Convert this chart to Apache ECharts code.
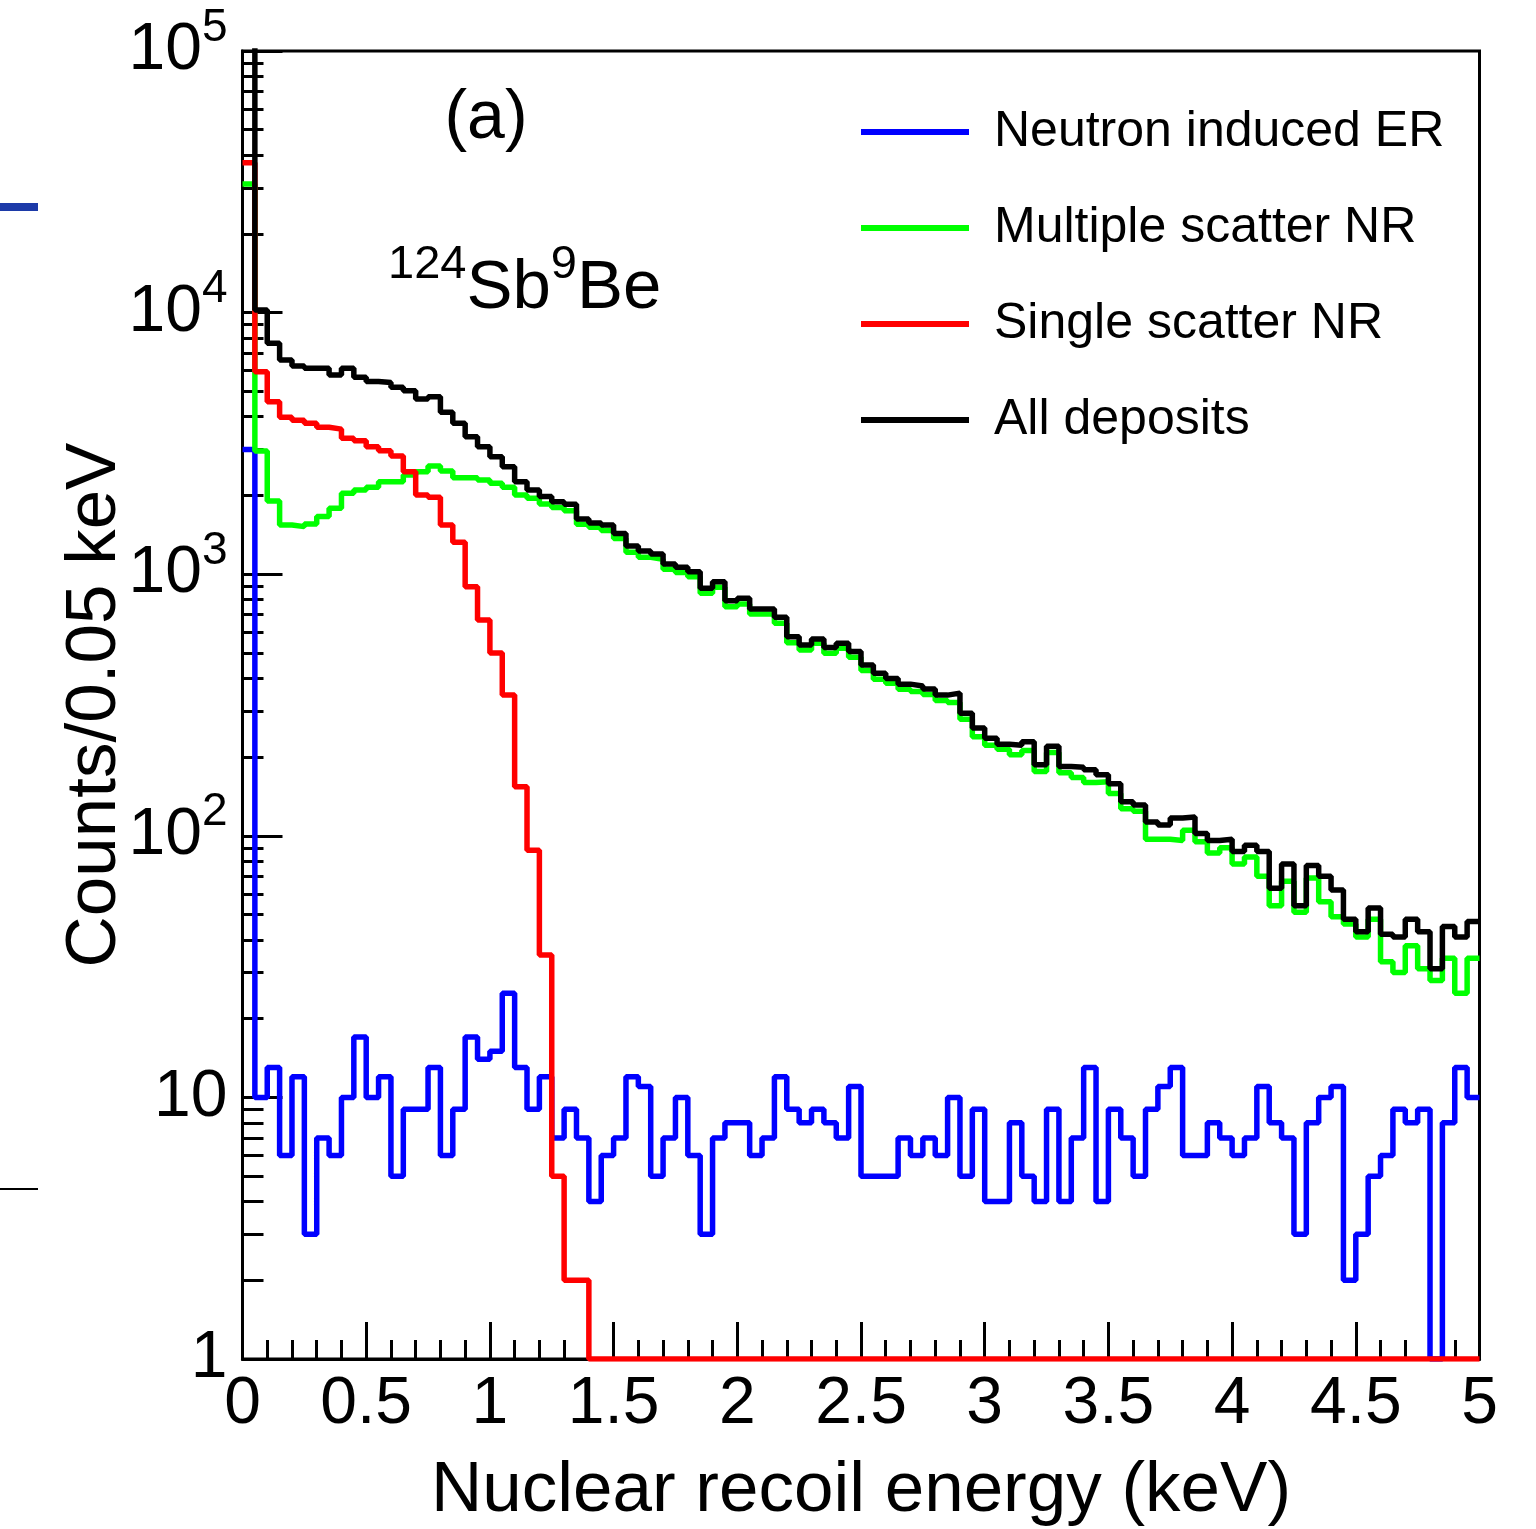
<!DOCTYPE html>
<html><head><meta charset="utf-8">
<script src="https://cdn.jsdelivr.net/npm/echarts@6/dist/echarts.min.js"></script>
<style>html,body{margin:0;padding:0;background:#fff}#chart{width:1536px;height:1529px}</style>
</head><body><div id="chart"></div>
<script>
// Histogram: 100 bins of 0.05 keV from 0 to 5 keV
const binWidth = 0.05;
const xMin = 0, xMax = 5;

const seriesNames = ['Neutron induced ER', 'Multiple scatter NR', 'Single scatter NR', 'All deposits'];

const neutronER = [3000,10,13,6,12,3,7,6,10,17, 10,12,5,9,9,13,6,9,17,14,
  15,25,13,9,12,7,9,7,4,6, 7,12,11,5,7,10,6,3,7,8,
  8,6,7,12,9,8,9,8,7,11, 5,5,5,7,6,7,6,10,5,9,
  4,4,8,5,4,9,4,7,13,4, 9,7,5,9,11,13,6,6,8,7,
  6,7,11,8,7,3,8,10,11,2, 3,5,6,9,8,9,1,8,13,10];

const multipleNR = [31000,2958,1905,1542,1520,1556,1660,1786,2038,2100,
  2150,2258,2258,2395,2465,2594,2480,2339,2339,2290,
  2225,2150,2010,1951,1853,1800,1749,1552,1511,1469,
  1368,1214,1161,1141,1045,1014,978,845,891,751,
  769,705,705,649,547,513,544,499,521,481,
  428,397,383,363,356,347,329,323,279,239,
  222,214,204,212,176,208,174,167,160,161,
  145,127,124,97,97,96,105,95,86,90,
  78,83,70,54,67,51,69,56,49,46,
  41,48,33,30,38,31,28,34,25,34];

const singleNR = [37400,5940,4565,3980,3880,3775,3645,3585,3310,3240,
  3070,2965,2830,2465,2010,1968,1542,1324,896,668,
  500,345,154,88,35,5,2,2,1,1,
  1,1,1,1,1,1,1,1,1,1, 1,1,1,1,1,1,1,1,1,1,
  1,1,1,1,1,1,1,1,1,1, 1,1,1,1,1,1,1,1,1,1,
  1,1,1,1,1,1,1,1,1,1, 1,1,1,1,1,1,1,1,1,1,
  1,1,1,1,1,1,1,1,1,1];

const allDeposits = [120000,10230,7640,6590,6250,6125,6125,5780,6125,5660,
  5450,5400,5180,5030,4670,4770,4160,3780,3355,3070,
  2810,2575,2258,2100,1980,1893,1850,1625,1570,1542,
  1430,1282,1227,1194,1094,1062,1022,884,936,792,
  809,736,736,684,577,536,565,524,545,506,
  450,418,399,380,374,364,345,351,294,258,
  236,224,222,229,187,220,184,183,179,171,
  158,135,131,113,110,117,118,102,96,97,
  87,92,87,63,78,54,77,70,62,48,
  43,53,42,41,48,43,31,45,41,47];

const seriesColors = ['#0000ff', '#00ff00', '#ff0000', '#000000'];
const yMinorTicks = [];
for (let d = 1; d <= 10000; d *= 10) for (let m = 2; m <= 9; m++) yMinorTicks.push(m * d);

const FONT = '"Liberation Sans", Arial, Helvetica, sans-serif';

function histData(vals) {
  const d = vals.map((v, i) => [+(i * binWidth).toFixed(2), v]);
  d.push([xMax, vals[vals.length - 1]]);
  return d;
}

const allSeriesValues = [neutronER, multipleNR, singleNR, allDeposits];

const chart = echarts.init(document.getElementById('chart'), null, {renderer: 'canvas'});
chart.setOption({
  animation: false,
  backgroundColor: '#fff',
  grid: {left: 242.5, right: 56.5, top: 51, bottom: 170, containLabel: false, outerBoundsMode: 'none',
         show: true, borderColor: '#000', borderWidth: 3, backgroundColor: 'transparent'},
  legend: {
    data: seriesNames, orient: 'vertical', left: 856, top: 99,
    itemWidth: 108, itemHeight: 6, itemGap: 40, icon: 'rect', selectedMode: false,
    textStyle: {fontSize: 50, color: '#000', fontFamily: FONT, lineHeight: 56, padding: [0, 0, 0, 20]}
  },
  xAxis: {
    type: 'value', min: xMin, max: xMax, interval: 0.5,
    name: 'Nuclear recoil energy (keV)', nameLocation: 'middle', nameGap: 97, nameMoveOverlap: false,
    nameTextStyle: {fontSize: 71, color: '#000', fontFamily: FONT},
    axisLine: {lineStyle: {color: '#000', width: 3}},
    axisTick: {inside: true, length: 37, lineStyle: {color: '#000', width: 3}},
    minorTick: {show: true, splitNumber: 5, length: 19, lineStyle: {color: '#000', width: 3}},
    splitLine: {show: false}, minorSplitLine: {show: false},
    axisLabel: {fontSize: 66, color: '#000', fontFamily: FONT, margin: 13}
  },
  yAxis: [{
    type: 'log', logBase: 10, min: 1, max: 100000, position: 'left',
    name: 'Counts/0.05 keV', nameLocation: 'middle', nameGap: 112, nameRotate: 90, nameMoveOverlap: false,
    nameTextStyle: {fontSize: 71, color: '#000', fontFamily: FONT},
    axisLine: {lineStyle: {color: '#000', width: 3}},
    axisTick: {inside: true, length: 40, lineStyle: {color: '#000', width: 3}},
    splitLine: {show: false},
    axisLabel: {
      margin: 15, color: '#000', fontFamily: FONT,
      formatter: function (v) {
        const e = Math.round(Math.log10(v));
        if (e === 0) return '{p|1}';
        if (e === 1) return '{p|10}';
        return '{b|10}{s|' + e + '}';
      },
      rich: {
        p: {fontSize: 66, lineHeight: 66, fontFamily: FONT, color: '#000'},
        b: {fontSize: 66, lineHeight: 66, fontFamily: FONT, color: '#000', verticalAlign: 'bottom'},
        s: {fontSize: 46, lineHeight: 46, fontFamily: FONT, color: '#000', verticalAlign: 'bottom', padding: [14, 0, 33, 0]}
      }
    }
  }, {
    type: 'log', logBase: 10, min: 1, max: 100000, position: 'left',
    axisLine: {show: false}, axisLabel: {show: false}, splitLine: {show: false},
    axisTick: {show: true, inside: true, length: 21, customValues: yMinorTicks, lineStyle: {color: '#000', width: 3}}
  }],
  series: seriesNames.map((name, i) => ({
    name: name, type: 'line', step: 'end', showSymbol: false, symbol: 'none',
    color: seriesColors[i], z: 2 + i, clip: true,
    lineStyle: {color: seriesColors[i], width: 5.5},
    itemStyle: {color: seriesColors[i]},
    data: histData(allSeriesValues[i])
  })),
  graphic: [
    {type: 'rect', shape: {x: 0, y: 203, width: 38, height: 8}, style: {fill: '#1c3aa8'}},
    {type: 'rect', shape: {x: 0, y: 1188, width: 38, height: 2}, style: {fill: '#000'}},
    {type: 'text', x: 486, y: 119, style: {text: '(a)', fontSize: 68, fontFamily: FONT, fill: '#000', align: 'center', verticalAlign: 'middle'}},
    {type: 'text', x: 388, y: 323, style: {
      text: '{s|124}{m|Sb}{s|9}{m|Be}', align: 'left', verticalAlign: 'bottom',
      rich: {
        m: {fontSize: 69, lineHeight: 69, fontFamily: FONT, fill: '#000', verticalAlign: 'bottom'},
        s: {fontSize: 47, lineHeight: 47, fontFamily: FONT, fill: '#000', verticalAlign: 'bottom', padding: [0, 0, 34, 0]}
      }
    }}
  ]
});
</script></body></html>
